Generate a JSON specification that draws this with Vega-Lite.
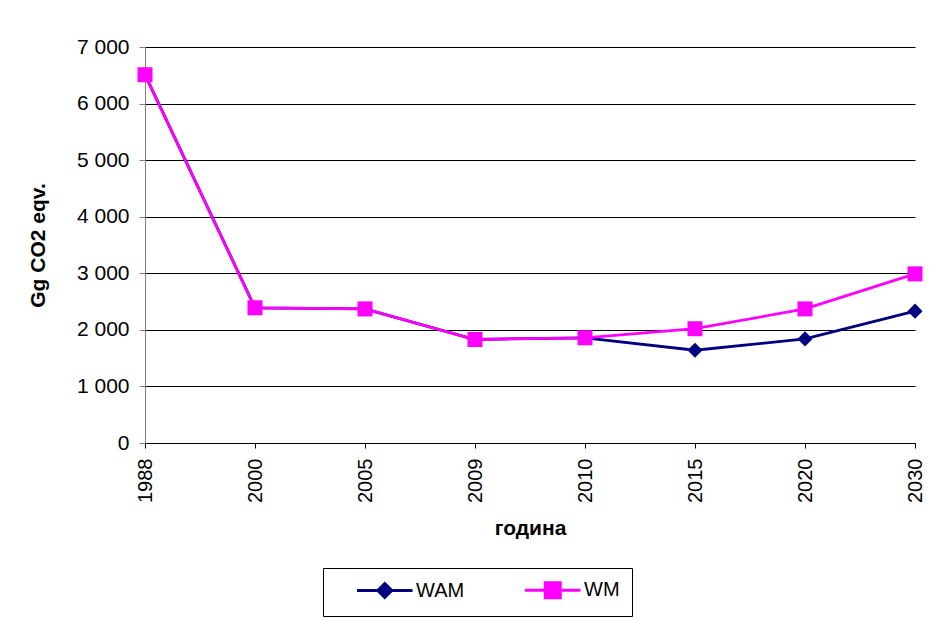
{
  "$schema": "https://vega.github.io/schema/vega-lite/v6.json",
  "autosize": "none",
  "width": 770,
  "height": 396,
  "padding": {"left": 145, "top": 47, "right": 25, "bottom": 177},
  "background": "white",
  "config": {
    "font": "Liberation Sans",
    "view": {"stroke": null},
    "axis": {"labelFont": "Liberation Sans", "titleFont": "Liberation Sans", "labelColor": "#000", "titleColor": "#000"}
  },
  "data": {
    "values": [
      {"year": "1988", "series": "WAM", "value": 6510},
      {"year": "2000", "series": "WAM", "value": 2390},
      {"year": "2005", "series": "WAM", "value": 2370},
      {"year": "2009", "series": "WAM", "value": 1830},
      {"year": "2010", "series": "WAM", "value": 1860},
      {"year": "2015", "series": "WAM", "value": 1640},
      {"year": "2020", "series": "WAM", "value": 1840},
      {"year": "2030", "series": "WAM", "value": 2330},
      {"year": "1988", "series": "WM", "value": 6510},
      {"year": "2000", "series": "WM", "value": 2390},
      {"year": "2005", "series": "WM", "value": 2370},
      {"year": "2009", "series": "WM", "value": 1830},
      {"year": "2010", "series": "WM", "value": 1860},
      {"year": "2015", "series": "WM", "value": 2020},
      {"year": "2020", "series": "WM", "value": 2370},
      {"year": "2030", "series": "WM", "value": 2990}
    ]
  },
  "encoding": {
    "x": {
      "field": "year", "type": "ordinal",
      "scale": {"type": "point", "padding": 0},
      "axis": {
        "title": "година", "titleFontSize": 21, "titleFontWeight": "bold", "titlePadding": 15,
        "labelAngle": -90, "labelFontSize": 20, "labelPadding": 10, "labelAlign": "right", "labelBaseline": "middle",
        "tickSize": 5, "tickColor": "#000", "domainColor": "#000", "grid": false
      }
    },
    "y": {
      "field": "value", "type": "quantitative",
      "scale": {"domain": [0, 7000], "nice": false},
      "axis": {
        "title": "Gg CO2 eqv.", "titleFontSize": 21, "titleFontWeight": "bold", "titleX": -97,
        "values": [0, 1000, 2000, 3000, 4000, 5000, 6000, 7000],
        "labelExpr": "replace(format(datum.value, ','), ',', ' ')",
        "labelFontSize": 21, "labelPadding": 10, "tickSize": 6,
        "tickColor": "#808080", "domainColor": "#808080",
        "grid": true, "gridColor": "#000", "gridWidth": 1
      }
    },
    "color": {
      "field": "series", "type": "nominal",
      "scale": {"domain": ["WAM", "WM"], "range": ["#000080", "#FF00FF"]},
      "legend": {
        "title": null, "orient": "none", "legendX": 178, "legendY": 521,
        "direction": "horizontal", "columns": 2,
        "strokeColor": "#000", "padding": 12, "fillColor": "white",
        "symbolSize": 225, "labelOffset": 61, "columnPadding": 38,
        "labelFontSize": 20, "labelFont": "Liberation Sans", "labelColor": "#000",
        "labelExpr": "datum.label == 'WM' ? datum.label + '\u2002\u2009' : datum.label",
        "encode": {
          "symbols": {
            "update": {
              "shape": {"signal": "datum.value == 'WAM' ? 'M1.6,0H9M5.3,-0.93L6.23,0L5.3,0.93L4.37,0Z' : 'M1.6,0H9M4.3,-1H6.3V1H4.3Z'"},
              "fill": {"scale": "color", "field": "value"},
              "stroke": {"scale": "color", "field": "value"},
              "strokeWidth": {"value": 3}
            }
          }
        }
      }
    }
  },
  "layer": [
    {"transform": [{"filter": "datum.series == 'WAM'"}], "mark": {"type": "line", "strokeWidth": 2.8}},
    {"transform": [{"filter": "datum.series == 'WAM'"}], "mark": {"type": "point", "filled": true, "opacity": 1, "shape": "diamond", "size": 230}},
    {"transform": [{"filter": "datum.series == 'WM'"}], "mark": {"type": "line", "strokeWidth": 2.8}},
    {"transform": [{"filter": "datum.series == 'WM'"}], "mark": {"type": "point", "filled": true, "opacity": 1, "shape": "square", "size": 225}}
  ]
}
